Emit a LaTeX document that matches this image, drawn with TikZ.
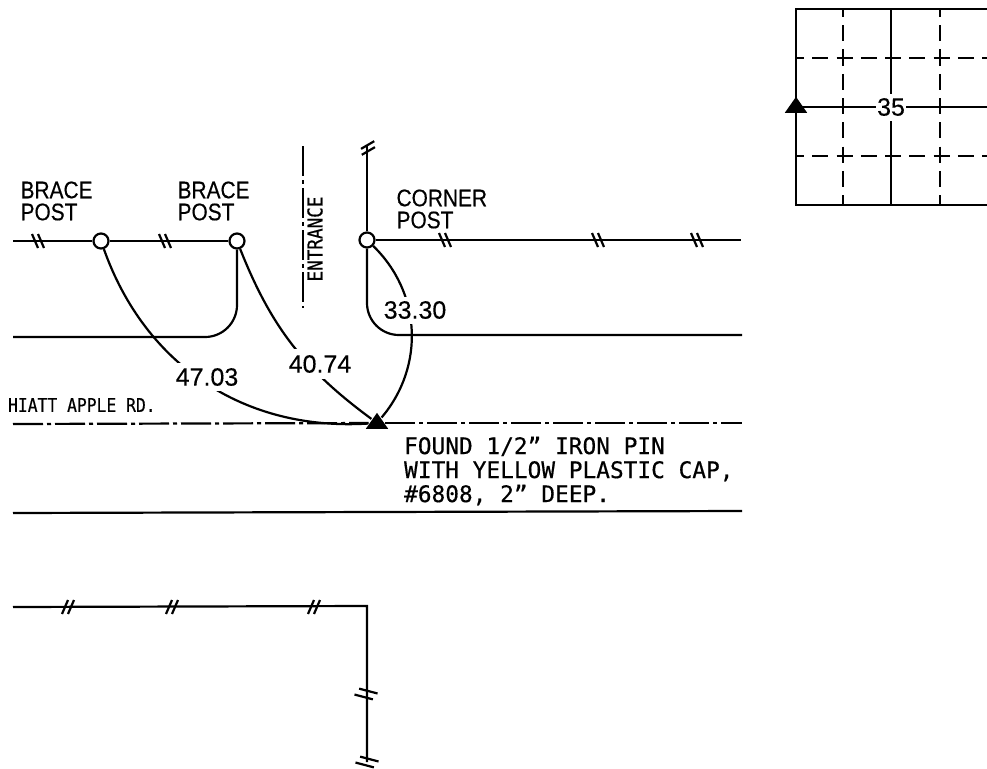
\documentclass[tikz,border=0pt]{standalone}
\usepackage{fontspec}
\usepackage{tikz}
\usetikzlibrary{shapes.geometric}
\setmainfont[FakeStretch=0.87,FakeBold=0.4]{Liberation Sans}
\newfontfamily\numfont[FakeBold=0.3]{Liberation Sans}
\newfontfamily\notefont[FakeBold=0.5]{DejaVu Sans Mono}
\newfontfamily\roadfont[FakeStretch=0.86,FakeBold=0.4]{DejaVu Sans Mono}

\tikzset{
    post/.style={circle,draw,fill=white,minimum size=15pt,inner sep=0pt},
    pin/.style={isosceles triangle,isosceles triangle apex angle=70,
        shape border rotate=90,fill=black,minimum height=16pt,inner sep=0pt},
    caption/.style={inner sep=0pt,anchor=west,align=left,
        font=\fontsize{24pt}{22pt}\selectfont},
    dist/.style={inner sep=0pt,fill=white,minimum height=28pt,
        font=\numfont\fontsize{25pt}{25pt}\selectfont},
    centerline/.style={dash pattern=on 30pt off 4pt on 4pt off 4pt},
    gridline/.style={dash pattern=on 16pt off 8.25pt,dash phase=8pt},
    pics/fencetick/.style={code={
        \draw (-6,-7) -- (0,7);
        \draw (0,-7) -- (6,7);
    }},
}

\begin{document}
\begin{tikzpicture}[x=1pt,y=-1pt,line width=2.2pt]
\useasboundingbox (0,0) rectangle (987,768);

% Posts and pin
\node[post] (brace1) at (101,241) {};
\node[post] (brace2) at (237,241) {};
\node[post] (corner) at (367,240) {};
\node[pin] (ironpin) at (377,423) {};

\coordinate (fenceW) at (13,241);
\coordinate (fenceE) at (741,240);
\coordinate (fenceN) at (367,146);
\coordinate (roadW) at (13,337);
\coordinate (roadE) at (742,335);
\coordinate (centerW) at (13,424);
\coordinate (centerE) at (742,423);
\coordinate (edgeW) at (13,513);
\coordinate (edgeE) at (742,511);
\coordinate (gateN) at (303,146);
\coordinate (gateS) at (303,308);

% Fences
\draw (fenceW) -- (brace1) -- (brace2);
\draw (corner) -- (fenceE);
\draw (corner) -- (fenceN);
\pic at (38,241) {fencetick};
\pic at (165,241) {fencetick};
\pic at (445,240) {fencetick};
\pic at (598,240) {fencetick};
\pic at (697,240) {fencetick};
\pic[rotate=97] at (368,148) {fencetick};

% Road
\draw[rounded corners=32pt] (roadW) -| (brace2);
\draw[rounded corners=32pt] (corner) |- (roadE);
\draw[centerline] (centerW) -- (ironpin);
\draw[centerline] (ironpin) -- (centerE);
\draw (edgeW) -- (edgeE);
\draw[centerline] (gateN) -- (gateS);

% Distances
\draw (brace1) to[bend right=37] (ironpin);
\draw (brace2) to[bend right=16] (ironpin);
\draw (corner) to[bend left=43] (ironpin);
\node[dist] (d47) at (207,377) {47.03};
\node[dist,minimum height=30pt] (d40) at (320,364) {40.74};
\node[dist,minimum height=27pt] (d33) at (415,310) {33.30};

% Labels
\node[caption] (brace1txt) at (19.5,201) {BRACE\\POST};
\node[caption] (brace2txt) at (176.5,201) {BRACE\\POST};
\node[caption] (cornertxt) at (395.5,209) {CORNER\\POST};
\node[caption,rotate=90,anchor=center,font=\roadfont\fontsize{20.5pt}{20.5pt}\selectfont] (gatetxt) at (315,239) {ENTRANCE};
\node[caption,font=\roadfont\fontsize{19pt}{19pt}\selectfont] (roadtxt) at (7,405) {HIATT APPLE RD.};
\node[caption,font=\notefont\fontsize{22.8pt}{24pt}\selectfont] (pintxt) at (403,471) {FOUND 1/2” IRON PIN\\WITH YELLOW PLASTIC CAP,\\\#6808, 2” DEEP.};

% Lower fence
\coordinate (lowW) at (13,607);
\coordinate (lowC) at (367,606);
\coordinate (lowS) at (367,762);
\draw (lowW) -- (lowC) -- (lowS);
\pic[xscale=-1] at (68,607) {fencetick};
\pic[xscale=-1] at (172,607) {fencetick};
\pic[xscale=-1] at (314,607) {fencetick};
\pic[rotate=52,scale=1.25] at (366,694) {fencetick};
\pic[rotate=52,scale=1.25] at (367,762) {fencetick};

% Section grid
\coordinate (gridNW) at (796,9);
\coordinate (gridNE) at (987,9);
\coordinate (gridSW) at (796,205);
\coordinate (gridSE) at (987,205);
\draw (gridNE) -- (gridNW) -- (gridSW) -- (gridSE);
\foreach \x in {843,940} \draw[gridline] (\x,9) -- (\x,205);
\foreach \y in {58,156} \draw[gridline] (796,\y) -- (987,\y);
\draw (891,9) -- (891,205);
\draw (796,107) -- (987,107);
\node[pin] (gridpin) at (796,107) {};
\node[dist,minimum width=30pt,minimum height=27pt] (sec) at (891,107) {35};
\end{tikzpicture}
\end{document}
